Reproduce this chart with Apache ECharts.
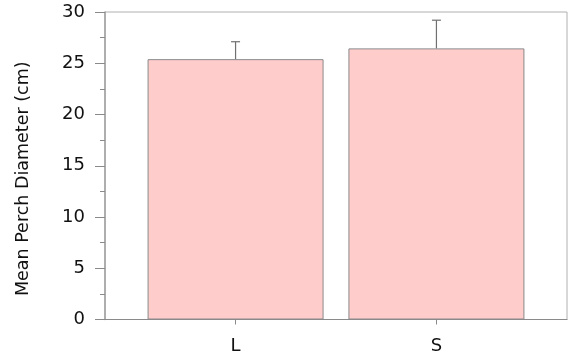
<!DOCTYPE html>
<html>
<head>
<meta charset="utf-8">
<script src="https://cdn.jsdelivr.net/npm/echarts@6/dist/echarts.min.js"></script>
<style>html,body{margin:0;padding:0;background:#fff}#c{width:569px;height:358px}</style>
</head>
<body>
<div id="c"></div>
<script>
const categories = ['L', 'S'];
const means = [25.4, 26.45];
const errors = [1.7, 2.75];
const yTicks = [0, 5, 10, 15, 20, 25, 30];

const positions = categories.map((c, i) => i + 1);
const barData = positions.map((p, i) => [p, means[i]]);
const errData = positions.map((p, i) => [p, means[i], means[i] + errors[i]]);

const chart = echarts.init(document.getElementById('c'));
chart.setOption({
  animation: false,
  grid: { left: 105, right: 2, top: 12, bottom: 38.5, show: true, borderColor: '#b0b0b0', borderWidth: 1 },
  xAxis: {
    type: 'value', min: 0.35, max: 2.65,
    splitLine: { show: false },
    axisLine: { show: true, lineStyle: { color: '#8a8a8a', width: 1.2 } },
    axisTick: { show: true, inside: false, length: 5, customValues: positions, lineStyle: { color: '#8a8a8a' } },
    axisLabel: { customValues: positions, margin: 18, fontFamily: 'DejaVu Sans', fontSize: 18, color: '#111',
      formatter: v => categories[Math.round(v) - 1] || '' }
  },
  yAxis: {
    type: 'value', min: yTicks[0], max: yTicks[yTicks.length - 1], interval: 5,
    name: 'Mean Perch Diameter (cm)', nameLocation: 'middle', nameGap: 73,
    nameTextStyle: { fontFamily: 'DejaVu Sans', fontSize: 17.5, color: '#111', padding: [0, 26, 0, 0] },
    splitLine: { show: false },
    axisLine: { show: true, lineStyle: { color: '#a0a0a0', width: 1.5 } },
    axisTick: { show: true, inside: false, length: 10, lineStyle: { color: '#8a8a8a' } },
    minorTick: { show: true, splitNumber: 2, length: 5, lineStyle: { color: '#8a8a8a' } },
    axisLabel: { margin: 20, fontFamily: 'DejaVu Sans', fontSize: 18, color: '#111' }
  },
  series: [
    {
      type: 'bar', data: barData, barWidth: 176,
      itemStyle: { color: '#ffcccc', borderColor: '#8a8a8a', borderWidth: 1 }
    },
    {
      type: 'custom', data: errData, z: 3,
      renderItem: (params, api) => {
        const x = api.value(0);
        const lo = api.coord([x, api.value(1)]);
        const hi = api.coord([x, api.value(2)]);
        const cap = 4.5;
        const style = { stroke: '#707070', lineWidth: 1.2 };
        return { type: 'group', children: [
          { type: 'line', shape: { x1: lo[0], y1: lo[1], x2: hi[0], y2: hi[1] }, style },
          { type: 'line', shape: { x1: hi[0] - cap, y1: hi[1], x2: hi[0] + cap, y2: hi[1] }, style }
        ]};
      }
    }
  ]
});
</script>
</body>
</html>
